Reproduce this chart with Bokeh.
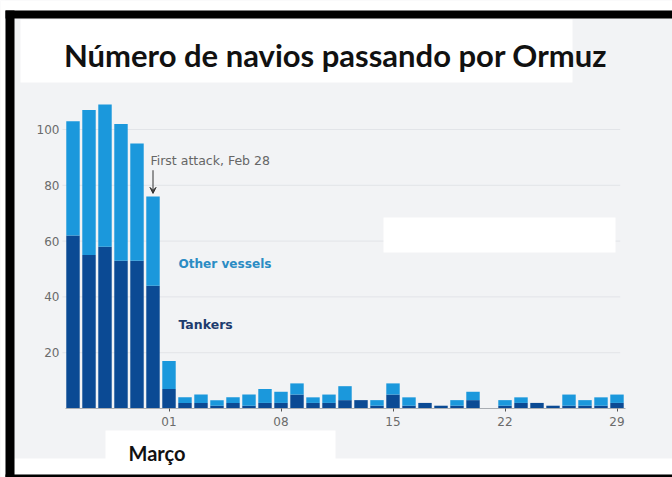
from bokeh.plotting import figure
from bokeh.models import (ColumnDataSource, FixedTicker, BoxAnnotation, Label,
                          Arrow, VeeHead, Range1d, LinearAxis)
from bokeh.embed import file_html
from bokeh.resources import INLINE

# ---- data ----
# day index: Feb 23 = -5 ... Feb 28 = 0, Mar 1 = 1 ... Mar 29 = 29
days = list(range(-5, 30))
tankers = [62, 55, 58, 53, 53, 44,
           7, 2, 2, 1, 2, 1, 2, 2, 5, 2, 2, 3, 3, 1, 5,
           1, 2, 1, 1, 3, 0, 1, 2, 2, 1, 1, 1, 1, 2]
totals = [103, 107, 109, 102, 95, 76,
          17, 4, 5, 3, 4, 5, 7, 6, 9, 4, 5, 8, 3, 3, 9,
          4, 2, 1, 3, 6, 0, 3, 4, 2, 1, 5, 3, 4, 5]
others = [t - k for t, k in zip(totals, tankers)]

tick_days = [1, 8, 15, 22, 29]
tick_labels = ["01", "08", "15", "22", "29"]
y_ticks = [20, 40, 60, 80, 100]
attack_day = 0

title_text = "Número de navios passando por Ormuz"
month_text = "Março"

C_TANK = "#0b4a94"
C_OTHER = "#1b98dc"
BG = "#f2f3f5"
GRID = "#e2e4e8"

src = ColumnDataSource(dict(x=days, tankers=tankers, others=others))

W, H = 672, 477
p = figure(width=W, height=H,
           x_range=Range1d(-9.53125, 32.46875), y_range=Range1d(-24.73, 146.24),
           output_backend="svg", toolbar_location=None,
           x_axis_type=None, y_axis_type=None,
           min_border_left=0, min_border_right=0,
           min_border_top=0, min_border_bottom=0)
p.title.visible = False
p.background_fill_color = BG
p.border_fill_color = BG
p.outline_line_color = None
p.xgrid.grid_line_color = None
p.ygrid.grid_line_color = None


def cbox(l, r, t, b, c, level="annotation"):
    p.add_layout(BoxAnnotation(left=l, right=r, top=t, bottom=b,
                               left_units="canvas", right_units="canvas",
                               top_units="canvas", bottom_units="canvas",
                               fill_color=c, fill_alpha=1, line_color=None,
                               level=level))


# page decoration (white panels and black frame)
cbox(0, W, 0, 10, "white", "underlay")
cbox(0, 5, 0, H, "white", "underlay")
cbox(20, 572, 19, 82, "white", "underlay")
cbox(14, W, 458, 474, "white", "underlay")
cbox(105, 335, 430, 474, "white", "underlay")
cbox(5, W, 10, 18, "black")
cbox(5, 14, 10, H, "black")
cbox(5, W, 474, H, "black")

# horizontal grid lines from the y ticks
p.segment(x0=[-5.66] * len(y_ticks), x1=[29.2] * len(y_ticks),
          y0=y_ticks, y1=y_ticks, line_color=GRID, line_width=1, level="underlay")
# white patch over the grid (as in the picture)
cbox(383, 615, 217, 252, "white", "underlay")

p.vbar_stack(["tankers", "others"], x="x", width=0.84, source=src,
             color=[C_TANK, C_OTHER], line_color=None)

xaxis = LinearAxis(fixed_location=0, bounds=(-5.5, 29.5),
                   ticker=FixedTicker(ticks=tick_days),
                   major_label_overrides={d: s for d, s in zip(tick_days, tick_labels)},
                   axis_line_color="#a9adb3", major_tick_line_color="#555555",
                   major_tick_out=3, major_tick_in=0, minor_tick_line_color=None,
                   major_label_standoff=5, major_label_text_font="DejaVu Sans",
                   major_label_text_font_size="12px", major_label_text_color="#6b6b6b")
p.add_layout(xaxis, "below")

yaxis = LinearAxis(fixed_location=-5.656, ticker=FixedTicker(ticks=y_ticks),
                   axis_line_color=None, major_tick_line_color=None,
                   major_tick_out=0, major_tick_in=0, minor_tick_line_color=None,
                   major_label_standoff=3, major_label_text_font="DejaVu Sans",
                   major_label_text_font_size="12px", major_label_text_color="#6b6b6b")
p.add_layout(yaxis, "left")

ai = days.index(attack_day)
p.add_layout(Arrow(end=VeeHead(size=6, line_color="#333333", line_width=1,
                               fill_color="#333333"),
                   x_start=attack_day, y_start=totals[ai] + 9.4,
                   x_end=attack_day, y_end=totals[ai] + 1.1,
                   line_color="#333333", line_width=1))
p.add_layout(Label(x=attack_day - 0.16, y=totals[ai] + 13, text="First attack, Feb 28",
                   text_font="DejaVu Sans", text_font_size="12.5px", text_color="#666666",
                   text_baseline="middle"))
p.add_layout(Label(x=1.59, y=51.7, text="Other vessels",
                   text_font="DejaVu Sans", text_font_style="bold",
                   text_font_size="12.1px", text_color="#2b8cc4", text_baseline="middle"))
p.add_layout(Label(x=1.59, y=30.2, text="Tankers",
                   text_font="DejaVu Sans", text_font_style="bold",
                   text_font_size="12.5px", text_color="#1d3c6e", text_baseline="middle"))

p.add_layout(Label(x=335, y=54, x_units="canvas", y_units="canvas", text=title_text,
                   text_font="Lato", text_font_style="bold", text_font_size="31px",
                   text_color="#111111", text_align="center", text_baseline="middle"))
p.add_layout(Label(x=128, y=452, x_units="canvas", y_units="canvas", text=month_text,
                   text_font="Lato", text_font_style="bold", text_font_size="20px",
                   text_color="#111111", text_align="left", text_baseline="middle"))

open("out.html", "w").write(file_html(p, INLINE))
